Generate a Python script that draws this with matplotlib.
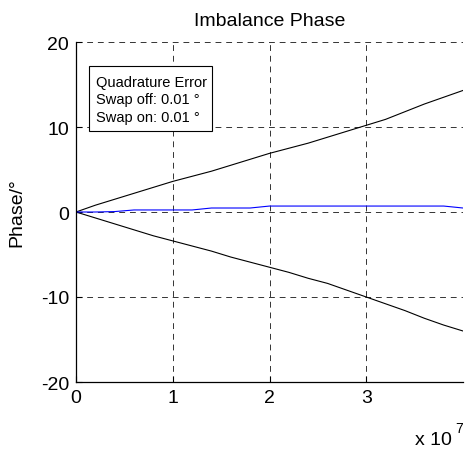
import matplotlib
matplotlib.use("Agg")
import matplotlib.pyplot as plt
from matplotlib.patches import Rectangle
import numpy as np

plt.rcParams['font.family'] = ['Liberation Sans', 'DejaVu Sans']

# Data (x in units of samples, plotted with x 10^7 scaling)
x_vals = np.array([0, 2, 4, 6, 8, 10, 12, 14, 16, 18, 20, 22, 24, 26, 28, 30,
                   32, 34, 36, 38, 40]) * 1e6
upper = [0, 0.8, 1.5, 2.2, 2.9, 3.6, 4.2, 4.8, 5.5, 6.2, 6.9, 7.5, 8.1, 8.8,
         9.5, 10.2, 10.9, 11.8, 12.7, 13.5, 14.3]
lower = [0, -0.7, -1.4, -2.1, -2.8, -3.4, -4.0, -4.6, -5.3, -5.9, -6.5, -7.1,
         -7.8, -8.4, -9.2, -10.0, -10.8, -11.6, -12.5, -13.3, -14.0]
blue = [0, 0, 0.05, 0.24, 0.24, 0.24, 0.24, 0.47, 0.47, 0.47, 0.7, 0.7, 0.7,
        0.7, 0.7, 0.7, 0.7, 0.7, 0.7, 0.7, 0.47]

xticks = [0, 1e7, 2e7, 3e7]
xticklabels = ['0', '1', '2', '3']
yticks = [-20, -10, 0, 10, 20]
yticklabels = ['-20', '-10', '0', '10', '20']

title = 'Imbalance Phase'
ylabel = 'Phase/°'
box_lines = ['Quadrature Error', 'Swap off: 0.01 °', 'Swap on: 0.01 °']

fig = plt.figure(figsize=(4.66, 4.52), dpi=100)
W, H = 466, 452
ax = fig.add_axes([76 / W, 1 - 383 / H, (463 - 76) / W, (383 - 43) / H])

ax.plot(x_vals, upper, color='black', lw=0.8)
ax.plot(x_vals, lower, color='black', lw=0.8)
ax.plot(x_vals, blue, color='#0000ff', lw=0.8)

ax.set_xlim(0, 4e7)
ax.set_ylim(-20, 20)
ax.set_xticks(xticks)
ax.set_xticklabels(xticklabels)
ax.set_yticks(yticks)
ax.set_yticklabels(yticklabels)
ax.tick_params(direction='in', length=4, width=0.8, labelsize=14, pad=5)

ax.grid(True, color='#333333', lw=0.7, linestyle=(0, (6, 5)))
ax.set_axisbelow(True)
for s in ['top', 'right']:
    ax.spines[s].set_visible(False)
for s in ['left', 'bottom']:
    ax.spines[s].set_linewidth(0.9)

ax.set_title(title, fontsize=14, pad=12.5)
ax.set_ylabel(ylabel, fontsize=14)
ax.yaxis.set_label_coords(-0.132, 0.5)

# text box
ax.add_patch(Rectangle((0.0336, 0.738), 0.351 - 0.0336, 0.929 - 0.738,
                       transform=ax.transAxes, fc='white', ec='black',
                       lw=0.8, zorder=5))
for yb, line in zip([0.872, 0.820, 0.768], box_lines):
    ax.text(0.0517, yb, line, transform=ax.transAxes, fontsize=10.5,
            va='baseline', ha='left', zorder=6)

# x 10^7 multiplier
fig.text(415 / W, 1 - 445 / H, 'x 10', fontsize=14, ha='left', va='baseline')
fig.text(455 / W, 1 - 433 / H, '7', fontsize=10, ha='left', va='baseline')

fig.savefig('out.png', dpi=100)
